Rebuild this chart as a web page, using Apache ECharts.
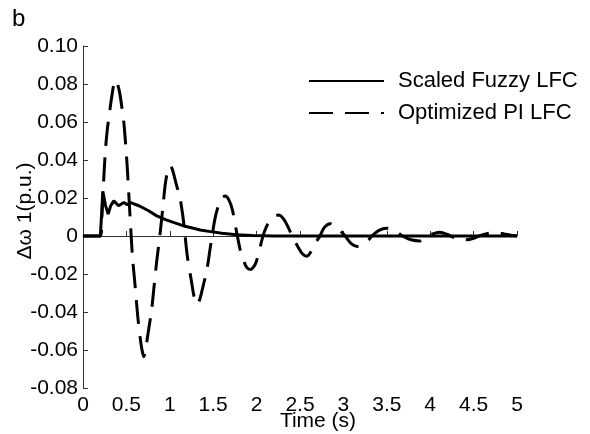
<!DOCTYPE html>
<html>
<head>
<meta charset="utf-8">
<script src="https://cdn.jsdelivr.net/npm/echarts@6/dist/echarts.min.js"></script>
<style>
  html, body { margin: 0; padding: 0; background: #fff; }
  #chart { width: 590px; height: 434px; }
</style>
</head>
<body>
<div id="chart"></div>
<script>
// Scaled Fuzzy LFC (solid)
var timeFuzzy = [0, 0.2, 0.215, 0.228, 0.26, 0.29, 0.32, 0.355, 0.41, 0.47, 0.51, 0.55,
  0.65, 0.75, 0.85, 0.95, 1.05, 1.16, 1.25, 1.35, 1.47, 1.6, 1.77, 1.95, 2.2, 5.0];
var fuzzyLFC = [0, 0, 0.012, 0.0235, 0.016, 0.0115, 0.016, 0.0185, 0.0159, 0.0176, 0.0165, 0.0176,
  0.0158, 0.0134, 0.0106, 0.0086, 0.007, 0.0053, 0.0043, 0.0032, 0.0023, 0.0014, 0.0006, 0.0002, 0, 0];

// Optimized PI LFC (dashed)
var timePI = [0, 0.2, 0.22, 0.24, 0.26, 0.28, 0.30, 0.33, 0.36, 0.375, 0.39, 0.42, 0.45, 0.47, 0.49,
  0.51, 0.53, 0.55, 0.57, 0.60, 0.63, 0.66, 0.68, 0.70, 0.72, 0.75, 0.79, 0.82, 0.85, 0.885,
  0.92, 0.95, 0.98, 1.005, 1.03, 1.07, 1.12, 1.16, 1.2, 1.25, 1.28, 1.31, 1.34, 1.37, 1.43,
  1.47, 1.52, 1.56, 1.6, 1.64, 1.68, 1.72, 1.77, 1.81, 1.85, 1.89, 1.93, 1.97, 2.0, 2.04,
  2.08, 2.13, 2.19, 2.25, 2.31, 2.37, 2.42, 2.48, 2.53, 2.58, 2.63, 2.68, 2.73, 2.78, 2.85,
  2.92, 2.97, 3.02, 3.09, 3.16, 3.22, 3.29, 3.33, 3.41, 3.5, 3.58, 3.68, 3.78, 3.88, 3.96,
  4.02, 4.11, 4.2, 4.27, 4.35, 4.42, 4.5, 4.58, 4.68, 4.75, 4.85, 4.93, 5.0];
var piLFC = [0, 0, 0.012, 0.031, 0.046, 0.056, 0.063, 0.073, 0.081, 0.082, 0.081, 0.076, 0.067, 0.06, 0.049,
  0.036, 0.02, 0.004, -0.011, -0.026, -0.042, -0.054, -0.06, -0.0635, -0.06, -0.051, -0.039, -0.026, -0.013, 0,
  0.015, 0.028, 0.035, 0.037, 0.035, 0.028, 0.0194, 0.007, -0.01, -0.024, -0.032, -0.036, -0.034, -0.029, -0.017,
  -0.005, 0.009, 0.016, 0.02, 0.021, 0.019, 0.014, 0.002, -0.007, -0.013, -0.0168, -0.0176, -0.016, -0.013, -0.006,
  0.001, 0.0065, 0.01, 0.011, 0.009, 0.004, -0.001, -0.006, -0.0095, -0.0106, -0.008, -0.0035, 0, 0.0045, 0.0065,
  0.0048, 0.0025, 0, -0.004, -0.0055, -0.0048, -0.002, 0, 0.003, 0.0041, 0.0033, 0, -0.002, -0.0026, -0.0005,
  0.001, 0.002, 0.0008, -0.0008, -0.0018, -0.002, -0.0012, 0.0003, 0.0015, 0.0017, 0.0011, 0.0004, 0];

var font = "'Liberation Sans', Arial, Helvetica, sans-serif";
var axisColor = "#333";

function pairs(xs, ys) {
  return xs.map(function (x, i) { return [x, ys[i]]; });
}

var chart = echarts.init(document.getElementById("chart"));
chart.setOption({
  animation: false,
  textStyle: { fontFamily: font, color: "#000" },
  title: {
    text: "b",
    left: 7,
    top: 2,
    textStyle: { fontSize: 24, fontWeight: "normal", color: "#000", fontFamily: font }
  },
  legend: {
    orient: "vertical",
    left: 303,
    top: 65,
    itemWidth: 75,
    itemHeight: 14,
    itemGap: 10,
    itemStyle: { opacity: 0 },
    textStyle: { fontSize: 22, color: "#000", lineHeight: 20, padding: [0, 0, 0, 9] },
    data: ["Scaled Fuzzy LFC", "Optimized PI LFC"]
  },
  grid: { left: 83, right: 73, top: 46, bottom: 46, outerBoundsMode: "none" },
  xAxis: {
    type: "value",
    min: 0,
    max: 5,
    interval: 0.5,
    name: "Time (s)",
    nameLocation: "middle",
    nameGap: 23,
    nameMoveOverlap: false,
    nameTextStyle: { fontSize: 21, color: "#000", padding: [0, 0, 0, 36] },
    axisLine: { lineStyle: { color: axisColor, width: 1 } },
    axisTick: { inside: true, length: 5, lineStyle: { color: axisColor } },
    axisLabel: { fontSize: 21, color: "#000", margin: 7,
      formatter: function (v) { return String(Math.round(v * 10) / 10); } },
    splitLine: { show: false }
  },
  yAxis: {
    type: "value",
    min: -0.08,
    max: 0.1,
    interval: 0.02,
    name: "\u0394\u03c9 1(p.u.)",
    nameLocation: "middle",
    nameGap: 47,
    nameMoveOverlap: false,
    nameTextStyle: { fontSize: 21, color: "#000", padding: [0, 0, 0, 12] },
    axisLine: { show: true, lineStyle: { color: axisColor, width: 1 } },
    axisTick: { show: true, inside: true, length: 5, lineStyle: { color: axisColor } },
    axisLabel: { fontSize: 21, color: "#000", margin: 5,
      formatter: function (v) { return Math.abs(v) < 1e-9 ? "0" : v.toFixed(2); } },
    splitLine: { show: false }
  },
  series: [
    {
      name: "Scaled Fuzzy LFC",
      type: "line",
      symbol: "none",
      lineStyle: { color: "#000", width: 3 },
      itemStyle: { color: "#000" },
      data: pairs(timeFuzzy, fuzzyLFC)
    },
    {
      name: "Optimized PI LFC",
      type: "line",
      symbol: "none",
      smooth: 0.3,
      lineStyle: { color: "#000", width: 3, type: [24, 12] },
      itemStyle: { color: "#000" },
      data: pairs(timePI, piLFC)
    }
  ]
});
</script>
</body>
</html>
